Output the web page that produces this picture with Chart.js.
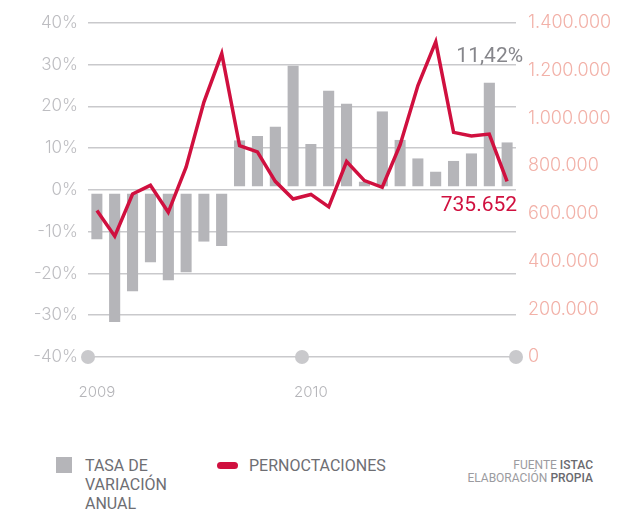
<!DOCTYPE html>
<html>
<head>
<meta charset="utf-8">
<script src="https://cdn.jsdelivr.net/npm/chart.js@4/dist/chart.umd.min.js"></script>
<style>
  body { margin: 0; background: #fff; font-family: Roboto, 'DejaVu Sans', sans-serif; }
  #wrap { position: relative; width: 637px; height: 512px; }
  #chartBox { position: absolute; left: 0; top: 0; width: 637px; height: 420px; }
  .legend { position: absolute; color: #6e6e73; font-size: 16px; line-height: 19px; }
  .swatch-bar { position: absolute; left: 56px; top: 457px; width: 16px; height: 16px; background: #b5b5b9; }
  .swatch-line { position: absolute; left: 217px; top: 462px; width: 21px; height: 7px; border-radius: 4px; background: #d0103f; }
  .source { position: absolute; right: 44px; top: 459px; text-align: right; font-size: 12px; line-height: 13px; color: #9b9ba0; }
  .source b { color: #6a6a6f; font-weight: 500; }
</style>
</head>
<body>
<div id="wrap">
  <div id="chartBox"><canvas id="chart"></canvas></div>
  <div class="swatch-bar"></div>
  <div class="legend" style="left:85px; top:456px;">TASA DE<br>VARIACIÓN<br>ANUAL</div>
  <div class="swatch-line"></div>
  <div class="legend" style="left:249px; top:456px;">PERNOCTACIONES</div>
  <div class="source">FUENTE <b>ISTAC</b><br>ELABORACIÓN <b>PROPIA</b></div>
</div>
<script>
// months, 2009-2010
const months = ['ene 2009', 'feb 2009', 'mar 2009', 'abr 2009', 'may 2009', 'jun 2009',
  'jul 2009', 'ago 2009', 'sep 2009', 'oct 2009', 'nov 2009', 'dic 2009',
  'ene 2010', 'feb 2010', 'mar 2010', 'abr 2010', 'may 2010', 'jun 2010',
  'jul 2010', 'ago 2010', 'sep 2010', 'oct 2010', 'nov 2010', 'dic 2010'];
const yearLabels = { 0: '2009', 12: '2010' };

// annual variation rate (%)
const tasaVariacion = [-11.9, -31.6, -24.3, -17.4, -21.7, -19.8, -12.4, -13.4,
  11.9, 12.9, 15.2, 29.8, 11.0, 23.8, 20.7, 2.0, 18.8, 12.0, 7.6, 4.4, 7.0, 8.8, 25.7, 11.42];

// overnight stays
const pernoctaciones = [614000, 506000, 683000, 719000, 606000, 795000, 1068000, 1271000,
  885000, 859000, 736000, 662000, 681000, 629000, 819000, 739000, 711000, 888000,
  1137000, 1320000, 941000, 926000, 934000, 735652];

const gridGray = '#c9c9cc';
const crimson = '#d0103f';

function fmtThousands(v) {
  return String(v).replace(/\B(?=(\d{3})+(?!\d))/g, '.');
}

// dots on the bottom line + value notes next to the last month
const decoPlugin = {
  id: 'deco',
  afterDraw(chart) {
    const ctx = chart.ctx;
    const area = chart.chartArea;
    const yL = chart.scales.y;
    const y0 = yL.getPixelForValue(-40);
    ctx.save();
    ctx.fillStyle = gridGray;
    [area.left, (area.left + area.right) / 2, area.right].forEach(x => {
      ctx.beginPath();
      ctx.arc(x, y0, 7, 0, Math.PI * 2);
      ctx.fill();
    });

    const last = months.length - 1;
    const bar = chart.getDatasetMeta(0).data[last];
    const pt = chart.getDatasetMeta(1).data[last];
    ctx.textAlign = 'right';
    ctx.textBaseline = 'alphabetic';
    ctx.font = "21px 'Liberation Sans Narrow', Roboto, sans-serif";
    ctx.fillStyle = '#86868b';
    ctx.fillText(tasaVariacion[last].toFixed(2).replace('.', ',') + '%', bar.x + 16, 62);
    ctx.fillStyle = crimson;
    ctx.fillText(fmtThousands(pernoctaciones[last]), pt.x + 10, pt.y + 30);
    ctx.restore();
  }
};

new Chart(document.getElementById('chart'), {
  type: 'bar',
  data: {
    labels: months,
    datasets: [{
      label: 'TASA DE VARIACIÓN ANUAL',
      data: tasaVariacion,
      yAxisID: 'y',
      backgroundColor: '#b5b5b9',
      // small gap between the bars and the 0% line
      borderColor: 'rgba(0,0,0,0)',
      borderSkipped: false,
      borderWidth: c => (c.raw >= 0 ? { bottom: 3 } : { top: 3 }),
      barPercentage: 0.64,
      categoryPercentage: 1,
      order: 1
    }, {
      type: 'line',
      label: 'PERNOCTACIONES',
      data: pernoctaciones,
      yAxisID: 'y2',
      borderColor: crimson,
      borderWidth: 3.5,
      pointRadius: 0,
      tension: 0,
      order: 0
    }]
  },
  options: {
    responsive: true,
    maintainAspectRatio: false,
    animation: false,
    layout: { padding: { top: 20 } },
    plugins: {
      legend: { display: false },
      tooltip: { enabled: false }
    },
    scales: {
      x: {
        grid: { display: false, drawTicks: false },
        border: { display: false },
        ticks: {
          autoSkip: false,
          maxRotation: 0,
          padding: 26,
          color: '#b5b5b9',
          font: { size: 15, family: 'Inter', weight: 300 },
          callback: (v, i) => yearLabels[i] || ''
        },
        afterFit: s => { s.height = 63; }
      },
      y: {
        position: 'left',
        min: -40,
        max: 40,
        ticks: {
          stepSize: 10,
          padding: 10,
          color: '#bdbdc1',
          font: { size: 17, family: 'Inter', weight: 300 },
          callback: v => v + '%'
        },
        grid: { color: gridGray, lineWidth: 1.5, drawTicks: false },
        border: { display: false },
        afterFit: s => { s.width = 88; }
      },
      y2: {
        position: 'right',
        min: 0,
        max: 1400000,
        ticks: {
          stepSize: 200000,
          padding: 12,
          color: '#f2b1a8',
          font: { size: 18, family: 'Inter', weight: 300 },
          callback: v => fmtThousands(v)
        },
        grid: { display: false, drawTicks: false },
        border: { display: false },
        afterFit: s => { s.width = 121; }
      }
    }
  },
  plugins: [decoPlugin]
});
</script>
</body>
</html>
